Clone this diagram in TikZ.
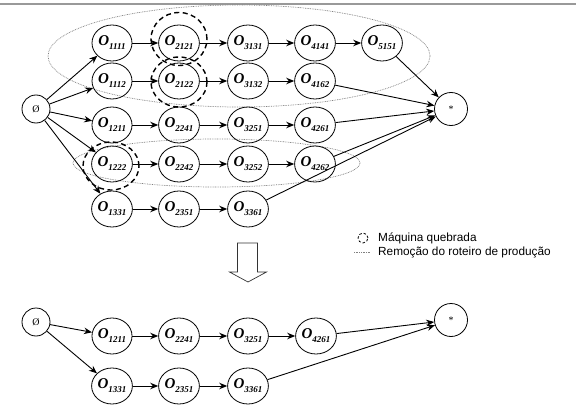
\documentclass[tikz,border=0pt]{standalone}
\usepackage{fontspec}
\setmainfont{Liberation Serif}
\newfontfamily\legendfont{Liberation Sans}
\usepackage{tikz}
\usetikzlibrary{arrows.meta,shapes.geometric}

\newcommand{\oper}[1]{O\raisebox{-4pt}{\fontsize{9}{9}\selectfont #1}}

\begin{document}
\begin{tikzpicture}[x=1pt, y=-1pt,
  op/.style={draw, ellipse, thick, minimum width=40pt, minimum height=36pt, inner sep=0pt,
    font=\bfseries\itshape\fontsize{15}{15}\selectfont},
  endpt/.style={draw, circle, thick, inner sep=0pt, font=\fontsize{10}{10}\selectfont},
  broken/.style={draw, ellipse, line width=1.4pt, dash pattern=on 5pt off 3.5pt},
  remove/.style={gray, line width=0.7pt, dash pattern=on 0.8pt off 0.9pt},
  arrow/.style={-{Stealth[length=8pt, width=6.5pt]}, line width=0.9pt}
]
  \useasboundingbox (0,0) rectangle (576,412);
  \draw[gray!80, line width=1.3pt] (0,4) -- (576,4);

  % removed routes
  \draw[remove] (239,56) ellipse [x radius=191, y radius=51];
  \draw[remove] (216.5,163) ellipse [x radius=143.5, y radius=24];

  % graph before the breakdown
  \node[endpt, minimum size=28pt] (src) at (36,109) {Ø};
  \node[endpt, minimum size=33pt] (snk) at (451,109) {*};

  \node[op] (o1111) at (112,43) {\oper{1111}};
  \node[op] (o2121) at (179,43) {\oper{2121}};
  \node[op] (o3131) at (248,43) {\oper{3131}};
  \node[op] (o4141) at (315,43) {\oper{4141}};
  \node[op] (o5151) at (382,43) {\oper{5151}};

  \node[op] (o1112) at (112,81) {\oper{1112}};
  \node[op] (o2122) at (179,81) {\oper{2122}};
  \node[op] (o3132) at (248,81) {\oper{3132}};
  \node[op] (o4162) at (315,81) {\oper{4162}};

  \node[op] (o1211) at (112,125) {\oper{1211}};
  \node[op] (o2241) at (179,125) {\oper{2241}};
  \node[op] (o3251) at (248,125) {\oper{3251}};
  \node[op] (o4261) at (315,125) {\oper{4261}};

  \node[op] (o1222) at (112,164) {\oper{1222}};
  \node[op] (o2242) at (179,164) {\oper{2242}};
  \node[op] (o3252) at (248,164) {\oper{3252}};
  \node[op] (o4262) at (315,164) {\oper{4262}};

  \node[op] (o1331) at (112,209) {\oper{1331}};
  \node[op] (o2351) at (179,209) {\oper{2351}};
  \node[op] (o3361) at (248,209) {\oper{3361}};

  % broken machines
  \node[broken, minimum width=56pt, minimum height=53pt] (brk1) at (179,39) {};
  \node[broken, minimum width=56pt, minimum height=50pt] (brk2) at (179,82) {};
  \node[broken, minimum width=56pt, minimum height=48pt] (brk3) at (111,166) {};

  \draw[arrow] (src) -- (o1111);
  \draw[arrow] (src) -- (o1112);
  \draw[arrow] (src) -- (o1211);
  \draw[arrow] (src) -- (o1222);
  \draw[arrow] (src) -- (o1331);

  \draw[arrow] (o1111) -- (o2121);
  \draw[arrow] (o2121) -- (o3131);
  \draw[arrow] (o3131) -- (o4141);
  \draw[arrow] (o4141) -- (o5151);
  \draw[arrow] (o5151) -- (snk);

  \draw[arrow] (o1112) -- (o2122);
  \draw[arrow] (o2122) -- (o3132);
  \draw[arrow] (o3132) -- (o4162);
  \draw[arrow] (o4162) -- (snk);

  \draw[arrow] (o1211) -- (o2241);
  \draw[arrow] (o2241) -- (o3251);
  \draw[arrow] (o3251) -- (o4261);
  \draw[arrow] (o4261) -- (snk);

  \draw[arrow] (o1222) -- (o2242);
  \draw[arrow] (o2242) -- (o3252);
  \draw[arrow] (o3252) -- (o4262);
  \draw[arrow] (o4262) -- (snk);

  \draw[arrow] (o1331) -- (o2351);
  \draw[arrow] (o2351) -- (o3361);
  \draw[arrow] (o3361) -- (snk);

  % legend
  \node[draw, circle, line width=0.8pt, dash pattern=on 2.5pt off 2pt, minimum size=10pt, inner sep=0pt] (keybrk) at (363,238) {};
  \node[anchor=west, font=\legendfont\fontsize{11.8}{12}\selectfont, inner sep=0pt] (txtbrk) at (378,238) {Máquina quebrada};
  \coordinate (keya) at (354,252);
  \coordinate (keyb) at (370,252);
  \draw[remove] (keya) -- (keyb);
  \node[anchor=west, font=\legendfont\fontsize{11.8}{12}\selectfont, inner sep=0pt] (txtrem) at (378,252) {Remoção do roteiro de produção};

  % transition arrow
  \draw[line width=0.7pt, draw=black!80, fill=white]
    (237.5,243) -- (257.5,243) -- (257.5,272) -- (266.5,272) -- (248,282)
    -- (229.5,272) -- (237.5,272) -- cycle;

  % graph after removing the routes
  \node[endpt, minimum size=28pt] (src2) at (36,322) {Ø};
  \node[endpt, minimum size=33pt] (snk2) at (451,320) {*};

  \node[op] (b1211) at (112,336) {\oper{1211}};
  \node[op] (b2241) at (179,336) {\oper{2241}};
  \node[op] (b3251) at (248,336) {\oper{3251}};
  \node[op] (b4261) at (316,336) {\oper{4261}};

  \node[op] (b1331) at (112,386) {\oper{1331}};
  \node[op] (b2351) at (179,386) {\oper{2351}};
  \node[op] (b3361) at (248,386) {\oper{3361}};

  \draw[arrow] (src2) -- (b1211);
  \draw[arrow] (src2) -- (b1331);
  \draw[arrow] (b1211) -- (b2241);
  \draw[arrow] (b2241) -- (b3251);
  \draw[arrow] (b3251) -- (b4261);
  \draw[arrow] (b4261) -- (snk2);
  \draw[arrow] (b1331) -- (b2351);
  \draw[arrow] (b2351) -- (b3361);
  \draw[arrow] (b3361) -- (snk2);
\end{tikzpicture}
\end{document}
